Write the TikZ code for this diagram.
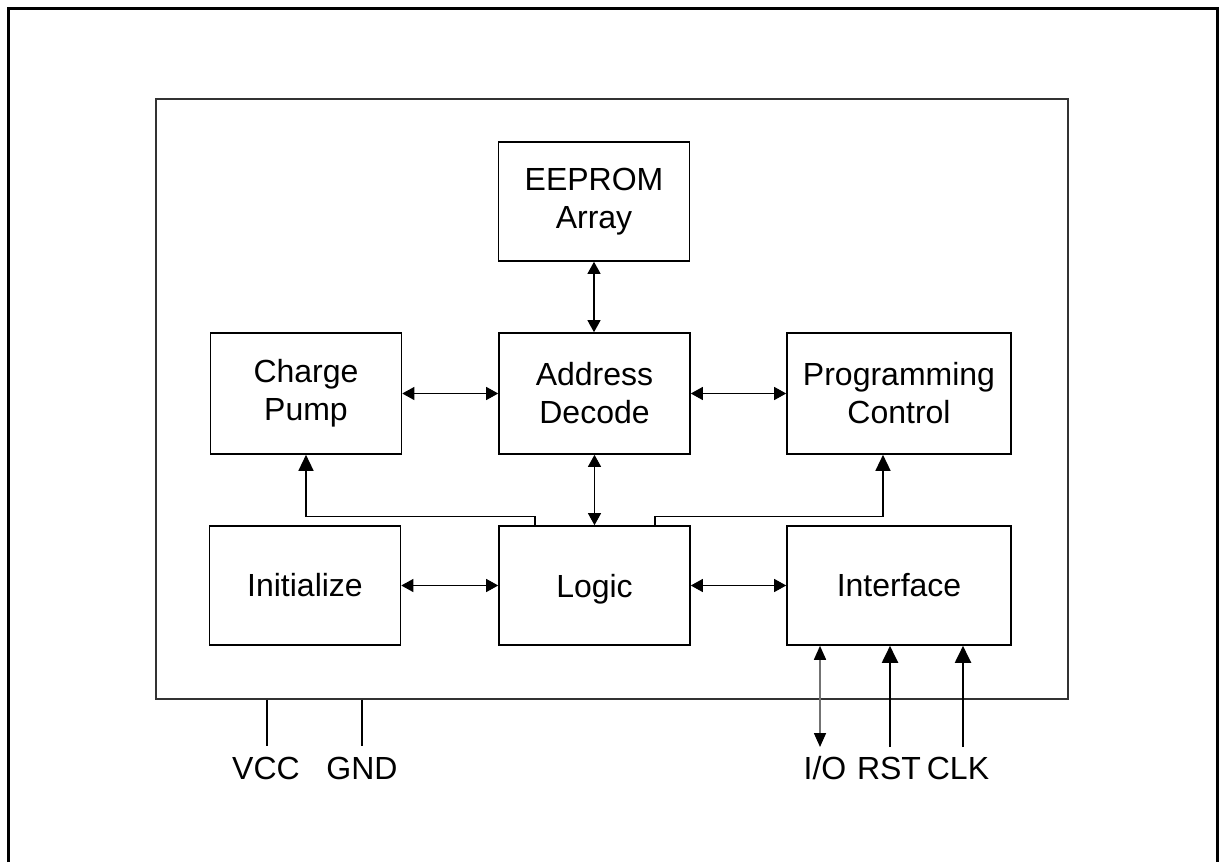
\documentclass[tikz,border=0pt]{standalone}
\usepackage{fontspec}
\setmainfont{Liberation Sans}
\usetikzlibrary{arrows.meta}
\begin{document}
\begin{tikzpicture}[x=1pt,y=-1pt,
  blk/.style={draw, line width=1.6pt, minimum width=191pt, minimum height=121pt, inner sep=0pt, align=center, font=\fontsize{32}{38}\selectfont},
  lbl/.style={inner sep=0pt, anchor=base, font=\fontsize{32}{38}\selectfont},
  bi/.style={line width=1.1pt, {Triangle[length=12pt,width=13pt]}-{Triangle[length=12pt,width=13pt]}},
  up/.style={line width=1.4pt, -{Triangle[length=16pt,width=15pt]}},
  pin/.style={line width=2pt, -{Triangle[length=17pt,width=16pt]}}]
\useasboundingbox (0,0) rectangle (1223,862);
\draw[line width=3pt] (8,862) -- (8,8) -- (1217,8) -- (1217,862);
\node[draw=black!80, line width=1.1pt, minimum width=912pt, minimum height=600pt, inner sep=0pt] (chip) at (612,399) {};
\node[blk, minimum height=119pt] (eeprom) at (594,201.5) {EEPROM\\Array};
\node[blk] (cp) at (306,393.5) {Charge\\Pump};
\node[blk] (addr) at (594.5,393.5) {Address\\Decode};
\node[blk, minimum width=224pt] (prog) at (899,393.5) {Programming\\Control};
\node[blk, minimum height=119pt] (init) at (305,585.5) {Initialize};
\node[blk, minimum height=119pt, text depth=0pt] (logic) at (594.5,585.5) {Logic};
\node[blk, minimum width=224pt, minimum height=119pt] (intf) at (899,585.5) {Interface};
\draw[bi] (eeprom) -- (eeprom |- addr.north);
\draw[bi] (addr) -- (logic);
\draw[bi] (cp) -- (addr);
\draw[bi] (addr) -- (prog);
\draw[bi] (init) -- (logic);
\draw[bi] (logic) -- (intf);
\draw[up] ([xshift=-59.5pt]logic.north) -- ++(0,-9) -| (cp.south);
\draw[up] ([xshift=60.5pt]logic.north) -- ++(0,-9) -| ([xshift=-16pt]prog.south);
\node[lbl] (vcc) at (266,779) {VCC};
\node[lbl] (gnd) at (362,779) {GND};
\node[lbl] (io) at (825,779) {I/O};
\node[lbl] (rst) at (889,779) {RST};
\node[lbl] (clk) at (958,779) {CLK};
\coordinate (vccend) at (267,746);
\coordinate (gndend) at (362,746);
\coordinate (ioend) at (820,747);
\coordinate (rstend) at (890,747);
\coordinate (clkend) at (963,747);
\draw[line width=1.4pt] (vccend |- chip.south) -- (vccend);
\draw[line width=1.4pt] (gndend |- chip.south) -- (gndend);
\draw[line width=1.6pt, draw=black!55, {Triangle[length=14pt,width=12pt,color=black]}-{Triangle[length=14pt,width=12pt,color=black]}] (ioend) -- (ioend |- intf.south);
\draw[pin] (rstend) -- (rstend |- intf.south);
\draw[pin] (clkend) -- (clkend |- intf.south);
\end{tikzpicture}
\end{document}
